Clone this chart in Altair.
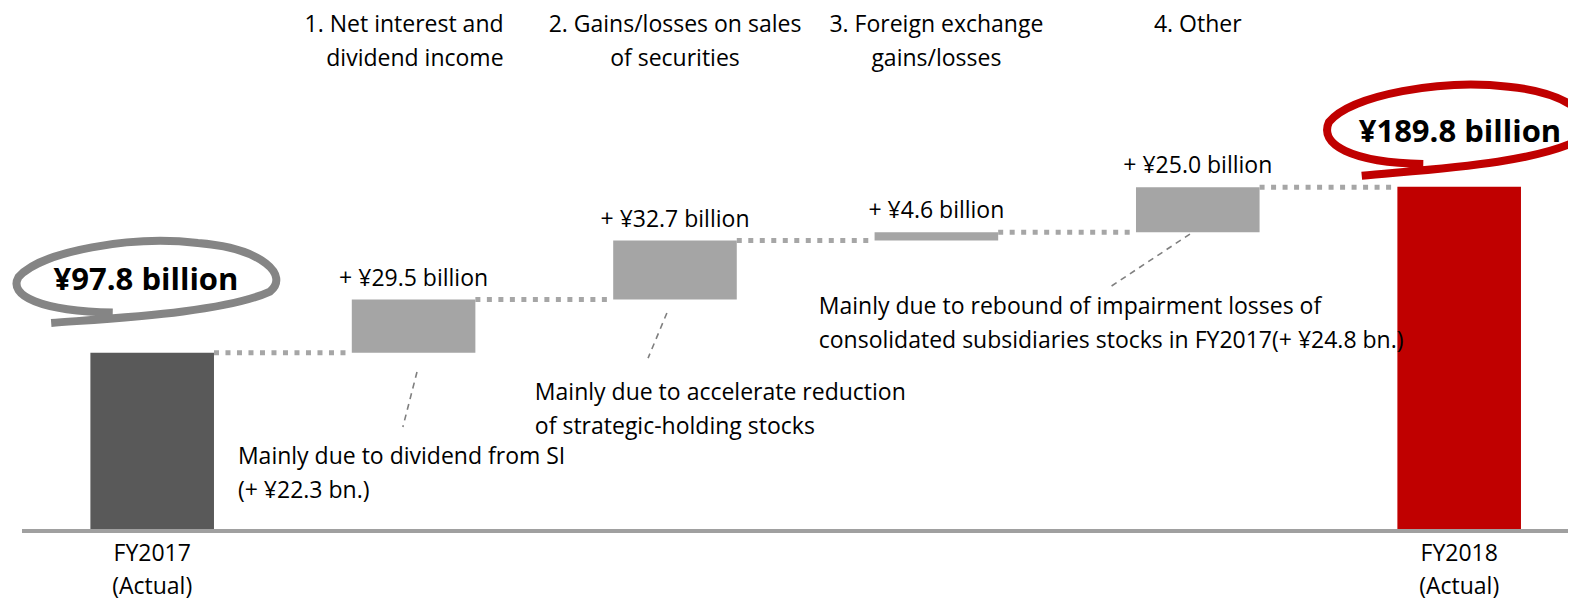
import altair as alt
import pandas as pd

# ---------------- data ----------------
categories = ["FY2017", "Net interest and dividend income",
              "Gains/losses on sales of securities",
              "Foreign exchange gains/losses", "Other", "FY2018"]
amounts = [97.8, 29.5, 32.7, 4.6, 25.0, 189.8]
kinds = ["start", "delta", "delta", "delta", "delta", "end"]

axis_labels = ["FY2017\n(Actual)", "FY2018\n(Actual)"]
axis_idx = [0, 5]

header_first = "1. Net interest and\ndividend income"
headers = ["2. Gains/losses on sales\nof securities",
           "3. Foreign exchange\ngains/losses",
           "4. Other"]
header_idx = [2, 3, 4]

value_labels = ["+ ¥29.5 billion", "+ ¥32.7 billion", "+ ¥4.6 billion", "+ ¥25.0 billion"]
value_idx = [1, 2, 3, 4]

total_labels = ["¥97.8 billion", "¥189.8 billion"]
total_label_x = [-0.0237, 5.003]
total_label_y = [132.5, 214.7]
ring_x = [-0.0256, 4.988]
ring_y = [136.8, 222.1]

notes = ["Mainly due to dividend from SI\n(+ ¥22.3 bn.)",
         "Mainly due to accelerate reduction\nof strategic-holding stocks",
         "Mainly due to rebound of impairment losses of\nconsolidated subsidiaries stocks in FY2017(+ ¥24.8 bn.)"]
note_x = [0.328, 1.464, 2.550]
note_y = [36.1, 71.8, 119.2]
leader_x = [1.013, 1.969, 3.970]
leader_y = [87.1, 119.8, 163.6]
leader_x2 = [0.959, 1.897, 3.664]
leader_y2 = [56.6, 94.8, 134.2]

# ---------------- derived tables ----------------
HALF = 0.2364
starts, ends = [], []
running = 0.0
for a, k in zip(amounts, kinds):
    if k == "start":
        s, e = 0.0, a
        running = a
    elif k == "delta":
        s, e = running, running + a
        running = e
    else:
        s, e = 0.0, a
    starts.append(round(s, 2))
    ends.append(round(e, 2))

bars = pd.DataFrame({
    "cat": categories, "amount": amounts, "kind": kinds,
    "idx": list(range(len(categories))),
    "start": starts, "end": ends,
})
bars["left"] = bars["idx"] - HALF
bars["right"] = bars["idx"] + HALF

conn = pd.DataFrame({
    "x": [bars["right"][i] for i in range(5)],
    "x2": [bars["left"][i + 1] for i in range(5)],
    "y": [ends[i] for i in range(5)],
})

axl = pd.DataFrame({"idx": axis_idx, "text": axis_labels})
vlab = pd.DataFrame({"idx": value_idx, "text": value_labels,
                     "y": [ends[i] for i in value_idx]})
head = pd.DataFrame({"idx": header_idx, "text": headers})
head1 = pd.DataFrame({"idx": [1], "text": [header_first]})
tot = pd.DataFrame({"x": total_label_x, "y": total_label_y, "text": total_labels})
notes_df = pd.DataFrame({"x": note_x, "y": note_y, "text": notes})
lead = pd.DataFrame({"x": leader_x, "y": leader_y, "x2": leader_x2, "y2": leader_y2})
ring_g = pd.DataFrame({"x": ring_x[:1], "y": ring_y[:1]})
ring_r = pd.DataFrame({"x": ring_x[1:], "y": ring_y[1:]})

# ---------------- scales ----------------
W, H = 1560, 521
FONT = "Open Sans"
xs = alt.Scale(domain=[-0.5516, 5.4163], nice=False, zero=False)
ys = alt.Scale(domain=[0, 289], nice=False, zero=False)


def X(field):
    return alt.X(field, scale=xs, axis=None)


def Y(field):
    return alt.Y(field, scale=ys, axis=None)


baseline = alt.Chart(pd.DataFrame({"a": [0]})).mark_rule(
    color="#a0a0a0", strokeWidth=4).encode(
    x=alt.value(14), x2=alt.value(W), y=alt.value(H + 2))

bar_layer = alt.Chart(bars).mark_bar().encode(
    x=X("left:Q"), x2="right:Q",
    y=Y("start:Q"), y2="end:Q",
    color=alt.Color("kind:N", legend=None,
                    scale=alt.Scale(domain=["start", "delta", "end"],
                                    range=["#595959", "#a5a5a5", "#c00000"])),
)

conn_layer = alt.Chart(conn).mark_rule(
    color="#a6a6a6", strokeWidth=5, strokeDash=[5, 6.5]).encode(
    x=X("x:Q"), x2="x2:Q", y=Y("y:Q"))

lead_layer = alt.Chart(lead).mark_rule(
    color="#7f7f7f", strokeWidth=1.6, strokeDash=[6, 5]).encode(
    x=X("x:Q"), x2="x2:Q", y=Y("y:Q"), y2="y2:Q")

axis_layer = alt.Chart(axl).mark_text(
    font=FONT, fontSize=23, color="#000000", align="center",
    baseline="alphabetic", lineBreak="\n", lineHeight=33).encode(
    x=X("idx:Q"), y=alt.value(H + 31.5), text="text:N")

vlab_layer = alt.Chart(vlab).mark_text(
    font=FONT, fontSize=23, color="#000000", align="center",
    baseline="alphabetic", dy=-14).encode(
    x=X("idx:Q"), y=Y("y:Q"), text="text:N")

head_layer = alt.Chart(head).mark_text(
    font=FONT, fontSize=23, color="#000000", align="center",
    baseline="alphabetic", lineBreak="\n", lineHeight=34).encode(
    x=X("idx:Q"), y=alt.Y(datum=275.5, scale=ys, axis=None), text="text:N")

head1_layer = alt.Chart(head1).mark_text(
    font=FONT, fontSize=23, color="#000000", align="right", dx=90,
    baseline="alphabetic", lineBreak="\n", lineHeight=34).encode(
    x=X("idx:Q"), y=alt.Y(datum=275.5, scale=ys, axis=None), text="text:N")

notes_layer = alt.Chart(notes_df).mark_text(
    font=FONT, fontSize=23, color="#000000", align="left",
    baseline="alphabetic", lineBreak="\n", lineHeight=34).encode(
    x=X("x:Q"), y=Y("y:Q"), text="text:N")

ring_path_g = ("M -0.72,0.31 C -0.2,0.27 0.6,0.23 0.95,0.07 "
               "C 1.1,-0.05 0.9,-0.26 0.4,-0.30 "
               "C -0.1,-0.36 -0.8,-0.24 -0.97,-0.04 "
               "C -1.05,0.1 -0.8,0.22 -0.25,0.23")
ring_path_r = ("M -0.72,0.36 C -0.2,0.31 0.6,0.27 0.95,0.08 "
               "C 1.1,-0.05 0.9,-0.27 0.4,-0.32 "
               "C -0.1,-0.38 -0.8,-0.26 -0.97,-0.05 "
               "C -1.05,0.12 -0.8,0.26 -0.25,0.27")

ring_g_layer = alt.Chart(ring_g).mark_point(
    shape=ring_path_g, size=262 * 262, filled=False, stroke="#858585",
    strokeWidth=8, opacity=1).encode(x=X("x:Q"), y=Y("y:Q"))

ring_r_layer = alt.Chart(ring_r).mark_point(
    shape=ring_path_r, size=262 * 262, filled=False, stroke="#c00000",
    strokeWidth=8, opacity=1).encode(x=X("x:Q"), y=Y("y:Q"))

tot_layer = alt.Chart(tot).mark_text(
    font=FONT, fontSize=31, fontWeight="bold", color="#000000",
    align="center", baseline="alphabetic").encode(
    x=X("x:Q"), y=Y("y:Q"), text="text:N")

chart = alt.layer(
    baseline, bar_layer, conn_layer, lead_layer, axis_layer, vlab_layer,
    head_layer, head1_layer, notes_layer, ring_g_layer, ring_r_layer, tot_layer
).properties(
    width=W, height=H,
    autosize=alt.AutoSizeParams(type="none"),
    padding={"left": 0, "top": 0, "right": 0, "bottom": 71},
    background="#ffffff",
).configure_view(stroke=None)

chart.save("out.html", embed_options={"renderer": "svg", "actions": False})
